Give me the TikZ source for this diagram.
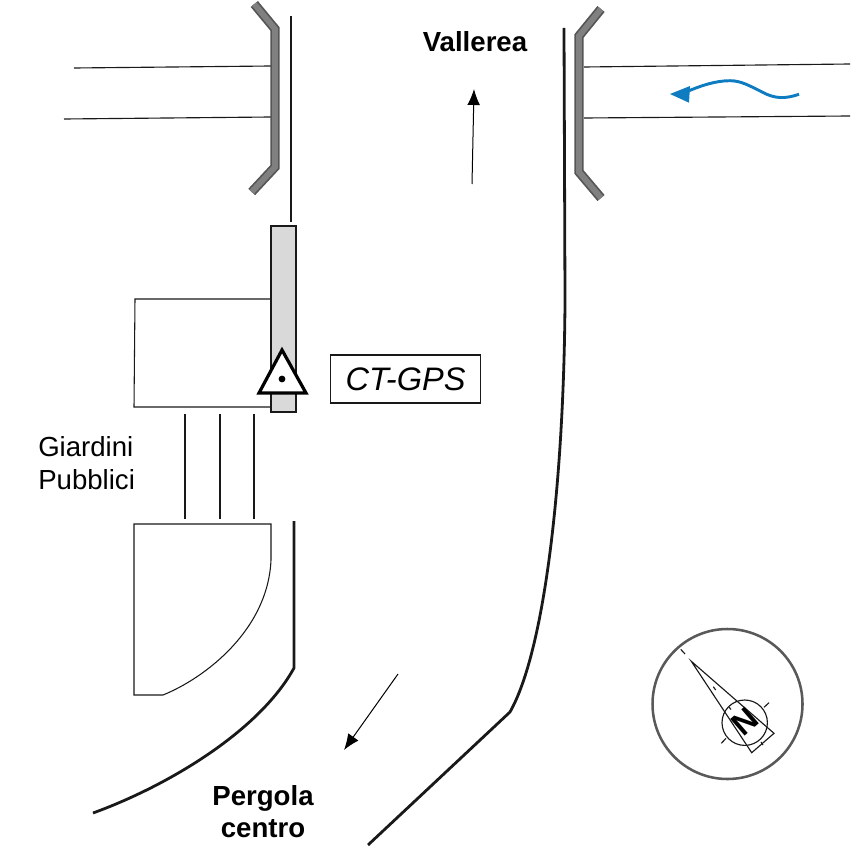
\documentclass[tikz,border=0pt]{standalone}
\usepackage{fontspec}
\setmainfont{Liberation Sans}
\usetikzlibrary{arrows.meta}
\definecolor{railfill}{HTML}{808080}
\definecolor{raildark}{HTML}{555555}
\definecolor{flow}{HTML}{0E7CC0}
\begin{document}
\begin{tikzpicture}[x=0.75pt,y=-0.75pt,
  road/.style={draw=black!90,line width=2.1pt},
  thin line/.style={draw=black!90,line width=0.85pt},
  outline/.style={draw=black!90,line width=0.8pt},
  railout/.style={draw=raildark,line width=7pt,miter limit=10},
  railin/.style={draw=railfill,line width=4.4pt,miter limit=10},
  arrowline/.style={draw=black,line width=0.75pt,-{Latex[length=12pt,width=9.5pt]}},
  bold label/.style={font=\fontsize{20.7}{24}\selectfont\bfseries,align=center,inner sep=0pt},
  plain label/.style={font=\fontsize{20.7}{25}\selectfont,align=left,inner sep=0pt}]
\useasboundingbox (0,0) rectangle (866,866);
% side roads
\draw[thin line] (74,68) -- (271,66);
\draw[thin line] (64,119) -- (271,117);
\draw[thin line] (584,67) -- (850,64);
\draw[thin line] (584,118) -- (850,116);
% guard rails
\draw[railout] (254.3,4) -- (275,29) -- (275,167) -- (251.7,192);
\draw[railin] (254.3,4) -- (275,29) -- (275,167) -- (251.7,192);
\draw[railout] (601,9) -- (579,36) -- (579,172) -- (601,198);
\draw[railin] (601,9) -- (579,36) -- (579,172) -- (601,198);
% main road edges
\draw[road] (291,16) -- (291,222);
\draw[road] (564,28) -- (565,300) .. controls (564,480) and (545,650) .. (510,712) -- (368,845);
\draw[road] (294,521) -- (294,668) .. controls (260,730) and (170,785) .. (93,813);
% building and gardens
\draw[outline] (271,299) -- (135,299) -- (134,407) -- (271,407);
\draw[outline,fill=black!15] (271,226) rectangle (296,412);
\draw[road] (185,414) -- (185,519);
\draw[road] (220,414) -- (220,519);
\draw[road] (254,414) -- (254,519);
\draw[outline] (134,524) -- (271,524) -- (271,560) .. controls (268,630) and (205,678) .. (163,695) -- (134,695) -- cycle;
% station
\draw[draw=black,line width=2.4pt,fill=white,miter limit=10] (282,350) -- (306,393) -- (259,393) -- cycle;
\fill (282,379) circle (3.4);
\node[draw=black!90,line width=0.9pt,minimum width=113pt,minimum height=36pt,inner sep=0pt,font=\fontsize{24.4}{26}\selectfont\itshape] (gps) at (405.5,379) {CT-GPS};
% direction arrows
\coordinate (upS) at (472,184);
\coordinate (upE) at (474,89);
\draw[arrowline] (upS) -- (upE);
\coordinate (dnS) at (398,674);
\coordinate (dnE) at (344,750);
\draw[arrowline] (dnS) -- (dnE);
% water flow
\draw[draw=flow,line width=2.2pt] (799,94.3) .. controls (785,99) and (775,99) .. (762,92) .. controls (750,86) and (741,80.7) .. (730,80.7) .. controls (715,80.7) and (700,86) .. (686,92);
\fill[flow] (670,94) -- (690,86) -- (689,102.7) -- cycle;
% labels
\node[bold label] (vallerea) at (475,42) {Vallerea};
\node[bold label] (pergola) at (263,812) {Pergola\\centro};
\node[plain label,anchor=west] (giardini) at (38,463) {Giardini\\Pubblici};
% compass
\draw[draw=black!65,line width=1.9pt] (727.5,704) circle (75);
\draw[draw=black!90,line width=0.85pt] (744.7,722.7) circle (22.7);
\draw[draw=black!90,line width=0.85pt] (691.3,661.3) -- (774,733.3) -- (751.7,752.7) -- cycle;
\draw[thin line] (680.7,649.3) -- (685,654);
\draw[thin line] (713.3,686.7) -- (715.7,690);
\draw[thin line] (764,707.3) -- (769,702.7);
\draw[thin line] (726,738.3) -- (721.3,743.3);
\draw[thin line] (729,707) -- (731,709.5);
\draw[thin line] (761,742) -- (763,745);
\node[font=\fontsize{24}{25}\selectfont\bfseries,rotate=41,inner sep=0pt] (north) at (745,722) {N};
\end{tikzpicture}
\end{document}
